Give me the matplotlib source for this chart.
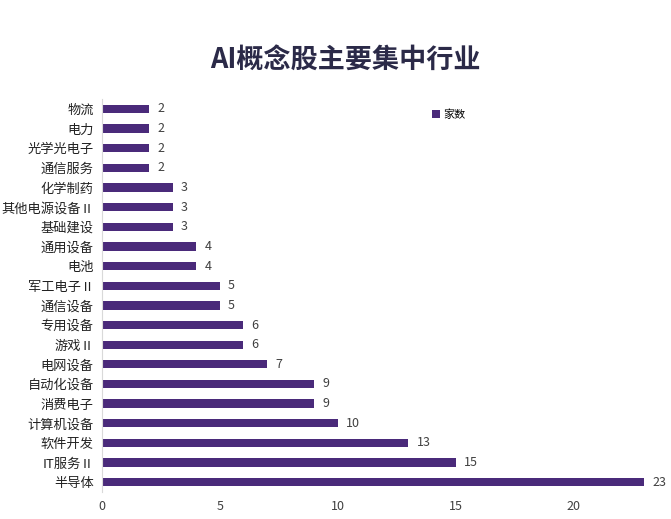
import matplotlib.pyplot as plt

plt.rcParams['font.family'] = ['Noto Sans CJK SC', 'DejaVu Sans']

# ---------------- DATA ----------------
industries = ["物流", "电力", "光学光电子", "通信服务", "化学制药", "其他电源设备Ⅱ",
              "基础建设", "通用设备", "电池", "军工电子Ⅱ", "通信设备", "专用设备",
              "游戏Ⅱ", "电网设备", "自动化设备", "消费电子", "计算机设备", "软件开发",
              "IT服务Ⅱ", "半导体"]
counts = [2, 2, 2, 2, 3, 3, 3, 4, 4, 5, 5, 6, 6, 7, 9, 9, 10, 13, 15, 23]
xticks = [0, 5, 10, 15, 20]

bar_color = "#4a2a7a"
text_color = "#404040"

# ---------------- PLOT ----------------
fig = plt.figure(figsize=(6.71, 5.19), dpi=100)
ax = fig.add_axes([0.152, 0.052, 0.815, 0.757])

pos = list(range(len(industries)))[::-1]
ax.barh(pos, counts, height=0.42, color=bar_color, label="家数")

for p, v in zip(pos, counts):
    ax.text(v + 0.35, p, str(v), va="center", ha="left", fontsize=9, color=text_color)

ax.set_yticks(pos)
ax.set_yticklabels(industries, fontsize=9.5, color="#222222")
ax.set_xticks(xticks)
ax.set_xticklabels([str(t) for t in xticks], fontsize=9, color=text_color)
ax.set_xlim(0, 23.2)
ax.set_ylim(-0.5, len(industries) - 0.5)

ax.tick_params(axis="both", length=0, pad=6)
for s in ["top", "right", "bottom"]:
    ax.spines[s].set_visible(False)
ax.spines["left"].set_color("#d9d9d9")

fig.text(0.515, 0.885, "AI概念股主要集中行业", ha="center", va="center",
         fontsize=19.5, fontweight="bold", color="#2b2a48")

ax.legend(loc="upper left", bbox_to_anchor=(0.585, 1.0), frameon=False,
          fontsize=8, handlelength=0.7, handleheight=0.7, handletextpad=0.3)

fig.savefig("out.png", dpi=100, facecolor="white")
